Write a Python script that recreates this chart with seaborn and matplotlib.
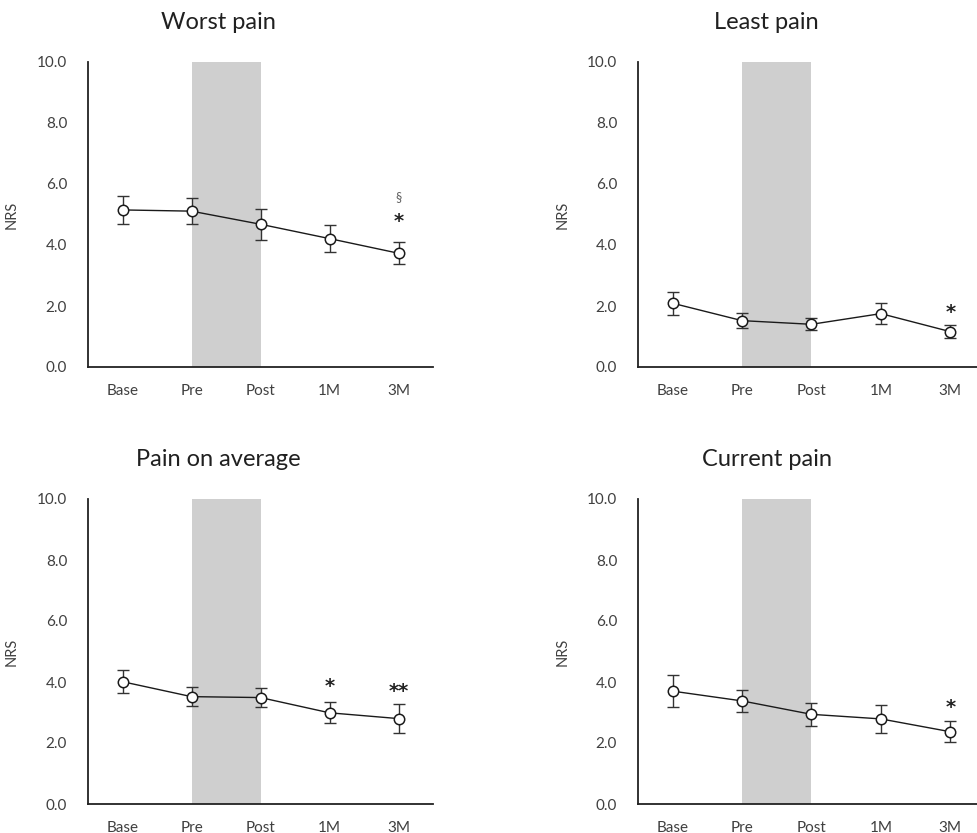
import numpy as np
import pandas as pd
import seaborn as sns
import matplotlib.pyplot as plt

# time points and per-panel means / error bars
timepoints = ['Base', 'Pre', 'Post', '1M', '3M']
titles = ['Worst pain', 'Least pain', 'Pain on average', 'Current pain']

worst_mean = [5.15, 5.11, 4.68, 4.21, 3.73]
worst_err = [0.46, 0.43, 0.50, 0.45, 0.36]
least_mean = [2.09, 1.52, 1.40, 1.75, 1.16]
least_err = [0.37, 0.25, 0.20, 0.34, 0.22]
avg_mean = [4.01, 3.52, 3.49, 2.99, 2.80]
avg_err = [0.38, 0.32, 0.31, 0.35, 0.47]
current_mean = [3.70, 3.38, 2.94, 2.79, 2.37]
current_err = [0.52, 0.37, 0.37, 0.47, 0.35]

# significance marks: (panel, time index, y, text)
marks = [
    (0, 4, 4.93, '*'), (0, 4, 5.58, '§'),
    (1, 4, 1.95, '*'),
    (2, 3, 3.99, '*'), (2, 4, 3.85, '**'),
    (3, 4, 3.32, '*'),
]

means = [worst_mean, least_mean, avg_mean, current_mean]
errs = [worst_err, least_err, avg_err, current_err]

sns.set_theme(style='white')
plt.rcParams['font.family'] = ['Lato', 'DejaVu Sans']

fig = plt.figure(figsize=(9.78, 8.33), dpi=100)
W, H = 978, 833
# axes boxes in pixels: left, top, right, bottom
boxes = [(88, 62, 433, 367), (638, 62, 978, 367),
         (88, 499, 433, 804), (638, 499, 978, 804)]
xr = [4.5, 4.4, 4.5, 4.4]

tick_col = '#404040'
for i, (l, t, r, b) in enumerate(boxes):
    ax = fig.add_axes([l / W, 1 - b / H, (r - l) / W, (b - t) / H])
    df = pd.DataFrame({'t': np.arange(len(timepoints)), 'nrs': means[i], 'err': errs[i]})
    # shaded intervention period between Pre and Post
    ax.axvspan(1, 2, ymin=0, ymax=1, color='#cfcfcf', lw=0, zorder=0)
    ax.errorbar(df['t'], df['nrs'], yerr=df['err'], fmt='none', ecolor='#333333',
                elinewidth=1, capsize=4, capthick=1, zorder=2)
    sns.lineplot(data=df, x='t', y='nrs', ax=ax, color='#1a1a1a', lw=1.0,
                 marker='o', markersize=7.5, markerfacecolor='white',
                 markeredgecolor='#1a1a1a', markeredgewidth=1.1, zorder=3)
    ax.set_xlim(-0.5, xr[i])
    ax.set_ylim(0, 10)
    ax.set_xticks(range(len(timepoints)))
    ax.set_xticklabels(timepoints)
    ax.set_yticks(np.arange(0, 10.1, 2))
    ax.set_yticklabels([f'{v:.1f}' for v in np.arange(0, 10.1, 2)])
    ax.tick_params(axis='both', direction='out', length=6, width=1.2,
                   color='#222222', labelcolor=tick_col, labelsize=11)
    ax.tick_params(axis='y', pad=9)
    ax.tick_params(axis='x', pad=6)
    for s in ['top', 'right']:
        ax.spines[s].set_visible(False)
    for s in ['left', 'bottom']:
        ax.spines[s].set_color('#222222')
        ax.spines[s].set_linewidth(1.3)
    ax.set_xlabel('')
    ax.set_ylabel('NRS', fontsize=10.5, color=tick_col)
    ax.yaxis.set_label_coords(-0.2, 0.5)
    ax.text(0.378, 1.0 + 39 / (b - t), titles[i], transform=ax.transAxes,
            ha='center', va='center', fontsize=17, color='#202020')
    for p, ti, yv, txt in marks:
        if p != i:
            continue
        if txt == '§':
            ax.text(ti, yv, txt, ha='center', va='center', fontsize=9, color='#606060')
        else:
            ax.text(ti, yv - 0.15, txt, ha='center', va='center', fontsize=14,
                    fontweight='bold', color='#222222', family='DejaVu Sans')

plt.savefig('out.png', dpi=100)
